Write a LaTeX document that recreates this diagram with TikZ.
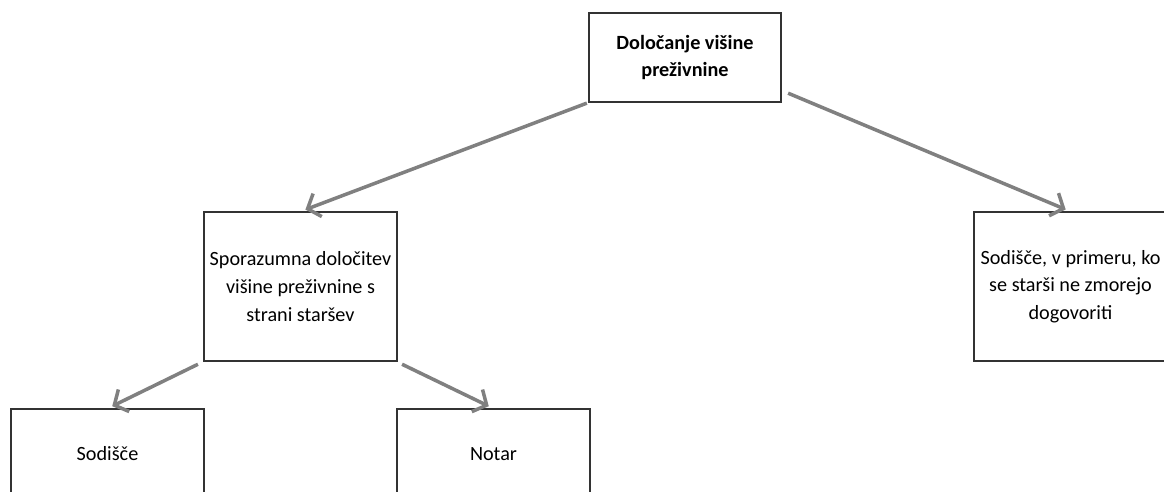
\documentclass[tikz,border=0pt]{standalone}
\usepackage{fontspec}
\setmainfont{Carlito}
\usepackage{tikz}
\usetikzlibrary{arrows.meta}

\begin{document}
\begin{tikzpicture}[x=0.02cm, y=-0.02cm,
    box/.style={draw=black!80, line width=0.6pt, align=center, inner sep=0pt, font=\fontsize{11.5pt}{15.8pt}\selectfont},
    link/.style={draw=black!50, line width=2pt, -{Straight Barb[length=6pt, width=14pt]}, shorten >=3pt, shorten <=1pt}]
    \useasboundingbox (0, 0) rectangle (1164, 492);
    \clip (0, 0) rectangle (1164, 492);

    \node[box, minimum width=3.84cm, minimum height=1.78cm] at (685, 57.5) (0) {\textbf{Določanje višine}\\\textbf{preživnine}};

    \node[box, minimum width=3.86cm, minimum height=2.98cm] at (300.5, 286.5) (1) {Sporazumna določitev\\višine preživnine s\\strani staršev};
    \node[box, minimum width=3.86cm, minimum height=2.98cm] at (1070.5, 286.5) (2) {Sodišče, v primeru, ko\\se starši ne zmorejo\\dogovoriti};

    \node[box, minimum width=3.86cm, minimum height=1.80cm] at (107.5, 454) (1a) {Sodišče};
    \node[box, minimum width=3.86cm, minimum height=1.80cm] at (493.5, 454) (1b) {Notar};

    \draw[link] (0.south west) -- (1.north);
    \draw[link] ([shift={(5, -10)}]0.south east) -- (2.north);
    \draw[link] ([shift={(-4, 2)}]1.south west) -- (1a.north);
    \draw[link] ([shift={(3, 2)}]1.south east) -- (1b.north);
\end{tikzpicture}
\end{document}
